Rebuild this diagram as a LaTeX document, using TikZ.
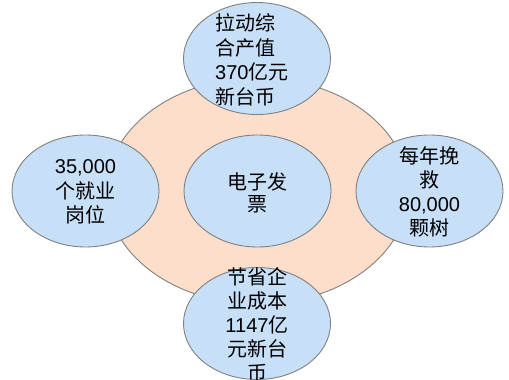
\documentclass[tikz,border=0pt]{standalone}
\usepackage{fontspec}
\setmainfont{Liberation Sans}
\newfontfamily\cjk{Noto Sans CJK SC}
\usetikzlibrary{shapes.geometric}
\definecolor{peach}{RGB}{252,222,203}
\definecolor{bluefill}{RGB}{200,223,248}
\definecolor{edgegray}{RGB}{128,128,128}
\newcommand\zh[1]{{\cjk #1}}
\begin{document}
\begin{tikzpicture}[x=1pt,y=-1pt,
  bigbub/.style={ellipse, draw=edgegray, line width=0.9pt, fill=peach, minimum width=302pt, minimum height=226pt, inner sep=0pt},
  bub/.style={ellipse, draw=edgegray, line width=0.9pt, fill=bluefill, minimum width=147pt, minimum height=112pt, inner sep=0pt},
  txt/.style={font=\fontsize{20}{24.5}\selectfont, inner sep=0pt, text=black}]
\useasboundingbox (0,0) rectangle (509,380);
\node[bigbub] (big) at (257.5,191) {};
\node[bub] (top) at (257,58.5) {};
\node[bub] (left) at (85.5,191) {};
\node[bub] (right) at (429.5,191) {};
\node[bub] (mid) at (257.5,191) {};
\node[bub] (bot) at (257,323.5) {};
\node[txt, align=left, anchor=west] (ttop) at (215,60) {\zh{拉动综}\\\zh{合产值}\\370\zh{亿元}\\\zh{新台币}};
\node[txt, align=center] (tleft) at (85.5,192) {35,000\\\zh{个就业}\\\zh{岗位}};
\node[txt, align=center, font=\fontsize{20}{24}\selectfont] (tright) at (429.5,191.5) {\zh{每年挽}\\\zh{救}\\80,000\\\zh{颗树}};
\node[txt, align=center, font=\fontsize{20}{22}\selectfont] (tmid) at (257.5,192.5) {\zh{电子发}\\\zh{票}};
\node[txt, align=center, font=\fontsize{20}{24}\selectfont] (tbot) at (257,324.5) {\zh{节省企}\\\zh{业成本}\\1147\zh{亿}\\\zh{元新台}\\\zh{币}};
\end{tikzpicture}
\end{document}
